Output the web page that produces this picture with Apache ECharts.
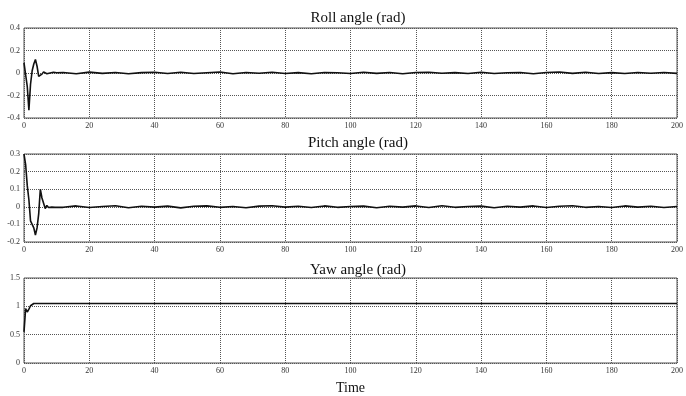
<!DOCTYPE html>
<html>
<head>
<meta charset="utf-8">
<script src="https://cdn.jsdelivr.net/npm/echarts@6/dist/echarts.min.js"></script>
<style>
html, body { margin: 0; padding: 0; background: #fff; }
#main { width: 686px; height: 396px; }
</style>
</head>
<body>
<div id="main"></div>
<script>
// time samples: dense during the start transient, then every 4 s
var time = [0, 0.5, 1, 1.5, 2, 2.5, 3, 3.5, 4, 4.5, 5, 5.5, 6, 6.5, 7, 7.5, 8, 8.5, 9, 9.5, 10,
    12, 16, 20, 24, 28, 32, 36, 40, 44, 48, 52, 56, 60, 64, 68, 72, 76, 80, 84, 88, 92, 96,
    100, 104, 108, 112, 116, 120, 124, 128, 132, 136, 140, 144, 148, 152, 156, 160, 164, 168,
    172, 176, 180, 184, 188, 192, 196, 200];

var roll = [0.09, 0.09, -0.12, -0.33, -0.1, 0.02, 0.08, 0.12, 0.06, -0.03, -0.04, -0.01, 0.01, 0, -0.006, 0.005, 0, -0.004, 0.006, -0.003, 0.002,
    0.004, -0.006, 0.008, -0.003, 0.005, -0.007, 0.003, 0.006, -0.004, 0.007, -0.005, 0.002, 0.009, -0.006, 0.004, -0.002,
    0.006, -0.005, 0.003, -0.007, 0.005, 0.002, -0.004, 0.006, -0.003, 0.005, -0.006, 0.004, 0.007, -0.002, 0.003, -0.005,
    0.006, -0.004, 0.002, 0.005, -0.006, 0.004, 0.009, -0.003, 0.006, -0.005, 0.003, -0.004, 0.005, -0.002, 0.004, -0.003];

var pitch = [0.3, 0.24, 0.12, 0.04, -0.08, -0.1, -0.12, -0.16, -0.12, -0.04, 0.1, 0.05, 0.02, -0.01, 0.008, -0.004, 0.003, -0.002, 0.004, -0.003, 0.002,
    -0.003, 0.005, -0.004, 0.002, 0.006, -0.005, 0.003, -0.002, 0.004, -0.006, 0.003, 0.005, -0.003, 0.002, -0.005, 0.004,
    0.006, -0.002, 0.003, -0.004, 0.005, -0.003, 0.002, 0.004, -0.005, 0.003, -0.002, 0.005, -0.004, 0.006, -0.003, 0.002,
    0.004, -0.005, 0.003, -0.002, 0.005, -0.004, 0.003, 0.006, -0.003, 0.002, -0.004, 0.005, -0.002, 0.003, -0.004, 0.002];

var yaw = [0.55, 0.96, 0.9, 0.95, 1.01, 1.04, 1.05, 1.05, 1.05, 1.05, 1.05, 1.05, 1.05, 1.05, 1.05, 1.05, 1.05, 1.05, 1.05, 1.05, 1.05,
    1.05, 1.05, 1.05, 1.05, 1.05, 1.05, 1.05, 1.05, 1.05, 1.05, 1.05, 1.05, 1.05, 1.05, 1.05, 1.05,
    1.05, 1.05, 1.05, 1.05, 1.05, 1.05, 1.05, 1.05, 1.05, 1.05, 1.05, 1.05, 1.05, 1.05, 1.05, 1.05,
    1.05, 1.05, 1.05, 1.05, 1.05, 1.05, 1.05, 1.05, 1.05, 1.05, 1.05, 1.05, 1.05, 1.05, 1.05, 1.05];

var titles = ['Roll angle (rad)', 'Pitch angle (rad)', 'Yaw angle (rad)'];
var yRanges = [[-0.4, 0.4, 0.2], [-0.2, 0.3, 0.1], [0, 1.5, 0.5]];

function pairs(values) {
    return time.map(function (t, i) { return [t, values[i]]; });
}

var serif = 'Liberation Serif';
var gridTops = [28, 154, 278];
var gridHeights = [90, 88, 90];
var titleTops = [6, 131, 258];

var grids = [], xAxes = [], yAxes = [], series = [], titleList = [];
for (var i = 0; i < 3; i++) {
    grids.push({
        left: 24, right: 3, top: gridTops[i], height: gridHeights[i],
        show: true, borderColor: '#555', borderWidth: 1, backgroundColor: '#fff'
    });
    xAxes.push({
        gridIndex: i, type: 'value', min: 0, max: 200, interval: 20,
        axisLine: { show: false },
        axisTick: { show: false },
        axisLabel: { fontFamily: serif, fontSize: 8, color: '#333', margin: 4 },
        splitLine: { show: true, lineStyle: { color: '#555', type: 'dotted', width: 1 } },
        name: i === 2 ? 'Time' : '',
        nameLocation: 'middle', nameGap: 18,
        nameTextStyle: { fontFamily: serif, fontSize: 14, color: '#111' }
    });
    yAxes.push({
        gridIndex: i, type: 'value', min: yRanges[i][0], max: yRanges[i][1], interval: yRanges[i][2],
        axisLine: { show: false },
        axisTick: { show: false },
        axisLabel: { fontFamily: serif, fontSize: 8, color: '#333', margin: 4 },
        splitLine: { show: true, lineStyle: { color: '#555', type: 'dotted', width: 1 } }
    });
    titleList.push({
        text: titles[i], left: 353, top: titleTops[i], textAlign: 'center',
        textStyle: { fontFamily: serif, fontSize: 15, fontWeight: 'normal', color: '#111' }
    });
}

series.push({ type: 'line', xAxisIndex: 0, yAxisIndex: 0, data: pairs(roll) });
series.push({ type: 'line', xAxisIndex: 1, yAxisIndex: 1, data: pairs(pitch) });
series.push({ type: 'line', xAxisIndex: 2, yAxisIndex: 2, data: pairs(yaw) });
series.forEach(function (s) {
    s.showSymbol = false;
    s.symbol = 'none';
    s.animation = false;
    s.lineStyle = { color: '#111', width: 1.6 };
});

var myChart = echarts.init(document.getElementById('main'));
myChart.setOption({
    animation: false,
    title: titleList,
    grid: grids,
    xAxis: xAxes,
    yAxis: yAxes,
    series: series
});
</script>
</body>
</html>
